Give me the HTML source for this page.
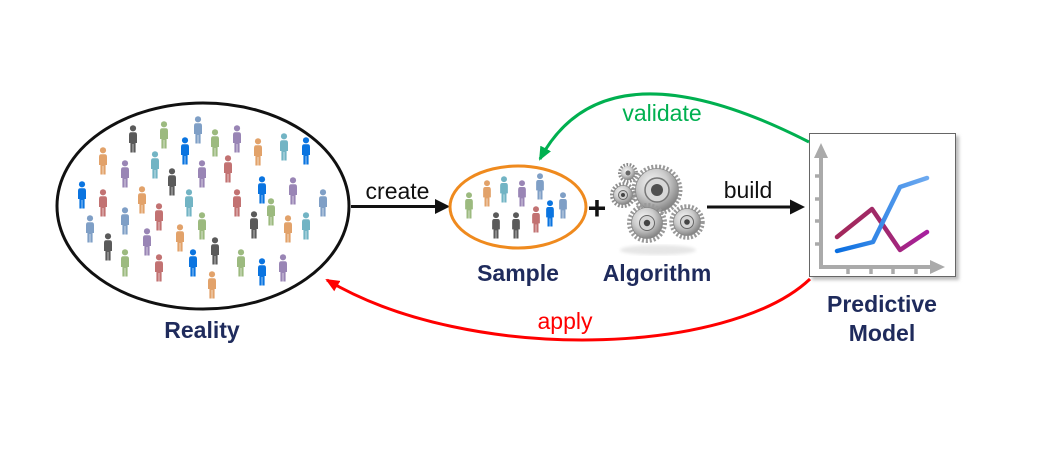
<!DOCTYPE html>
<html><head><meta charset="utf-8"><style>
html,body{margin:0;padding:0;background:#fff;}
svg{display:block;}
text{font-family:"Liberation Sans",Arial,sans-serif;}
</style></head><body>
<svg width="1040" height="451" viewBox="0 0 1040 451" xmlns="http://www.w3.org/2000/svg">
<defs>
<symbol id="p" viewBox="0 0 10 28">
<circle cx="5" cy="3.3" r="3.1"/>
<path d="M1,10 Q1,7.3 3.2,7.3 H6.8 Q9,7.3 9,10 V18 H7.6 V27.5 H5.3 V19 H4.7 V27.5 H2.4 V18 H1 Z"/>
</symbol>
<radialGradient id="metal" cx="40%" cy="35%" r="70%">
<stop offset="0" stop-color="#f6f6f6"/><stop offset="0.5" stop-color="#cccccc"/><stop offset="1" stop-color="#7a7a7a"/>
</radialGradient>
<linearGradient id="blueg" x1="0" y1="0" x2="1" y2="0">
<stop offset="0" stop-color="#0a6ee0"/><stop offset="1" stop-color="#6eaaf0"/>
</linearGradient>
<linearGradient id="redg" x1="0" y1="0" x2="1" y2="0">
<stop offset="0" stop-color="#a3285a"/><stop offset="0.5" stop-color="#a02a6a"/><stop offset="1" stop-color="#a81fa0"/>
</linearGradient>
<marker id="ag" markerWidth="14" markerHeight="12" refX="12" refY="6" orient="auto" markerUnits="userSpaceOnUse">
<path d="M0,0 L14,6 L0,12 Z" fill="#00b050"/></marker>
<marker id="ar" markerWidth="14" markerHeight="12" refX="12" refY="6" orient="auto" markerUnits="userSpaceOnUse">
<path d="M0,0 L14,6 L0,12 Z" fill="#ff0000"/></marker>
<filter id="blur"><feGaussianBlur stdDeviation="1.5"/></filter>
</defs>

<!-- Reality ellipse -->
<ellipse cx="203" cy="206" rx="146" ry="103" fill="#fff" stroke="#111" stroke-width="3"/>
<g>
<use href="#p" x="128" y="125" width="10" height="28" fill="#5a5a5a"/>
<use href="#p" x="159" y="121" width="10" height="28" fill="#9cba7f"/>
<use href="#p" x="193" y="116" width="10" height="28" fill="#7f9fc6"/>
<use href="#p" x="180" y="137" width="10" height="28" fill="#0a74e0"/>
<use href="#p" x="210" y="129" width="10" height="28" fill="#9cba7f"/>
<use href="#p" x="232" y="125" width="10" height="28" fill="#9985b5"/>
<use href="#p" x="253" y="138" width="10" height="28" fill="#e2a26a"/>
<use href="#p" x="279" y="133" width="10" height="28" fill="#72b4c4"/>
<use href="#p" x="301" y="137" width="10" height="28" fill="#0a74e0"/>
<use href="#p" x="98" y="147" width="10" height="28" fill="#e2a26a"/>
<use href="#p" x="120" y="160" width="10" height="28" fill="#9985b5"/>
<use href="#p" x="150" y="151" width="10" height="28" fill="#72b4c4"/>
<use href="#p" x="167" y="168" width="10" height="28" fill="#5a5a5a"/>
<use href="#p" x="197" y="160" width="10" height="28" fill="#9985b5"/>
<use href="#p" x="223" y="155" width="10" height="28" fill="#c27272"/>
<use href="#p" x="257" y="176" width="10" height="28" fill="#0a74e0"/>
<use href="#p" x="288" y="177" width="10" height="28" fill="#9985b5"/>
<use href="#p" x="77" y="181" width="10" height="28" fill="#0a74e0"/>
<use href="#p" x="98" y="189" width="10" height="28" fill="#c27272"/>
<use href="#p" x="137" y="186" width="10" height="28" fill="#e2a26a"/>
<use href="#p" x="184" y="189" width="10" height="28" fill="#72b4c4"/>
<use href="#p" x="232" y="189" width="10" height="28" fill="#c27272"/>
<use href="#p" x="266" y="198" width="10" height="28" fill="#9cba7f"/>
<use href="#p" x="318" y="189" width="10" height="28" fill="#7f9fc6"/>
<use href="#p" x="85" y="215" width="10" height="28" fill="#7f9fc6"/>
<use href="#p" x="120" y="207" width="10" height="28" fill="#7f9fc6"/>
<use href="#p" x="154" y="203" width="10" height="28" fill="#c27272"/>
<use href="#p" x="197" y="212" width="10" height="28" fill="#9cba7f"/>
<use href="#p" x="175" y="224" width="10" height="28" fill="#e2a26a"/>
<use href="#p" x="249" y="211" width="10" height="28" fill="#5a5a5a"/>
<use href="#p" x="283" y="215" width="10" height="28" fill="#e2a26a"/>
<use href="#p" x="301" y="212" width="10" height="28" fill="#72b4c4"/>
<use href="#p" x="103" y="233" width="10" height="28" fill="#5a5a5a"/>
<use href="#p" x="142" y="228" width="10" height="28" fill="#9985b5"/>
<use href="#p" x="210" y="237" width="10" height="28" fill="#5a5a5a"/>
<use href="#p" x="120" y="249" width="10" height="28" fill="#9cba7f"/>
<use href="#p" x="154" y="254" width="10" height="28" fill="#c27272"/>
<use href="#p" x="188" y="249" width="10" height="28" fill="#0a74e0"/>
<use href="#p" x="236" y="249" width="10" height="28" fill="#9cba7f"/>
<use href="#p" x="257" y="258" width="10" height="28" fill="#0a74e0"/>
<use href="#p" x="278" y="254" width="10" height="28" fill="#9985b5"/>
<use href="#p" x="207" y="271" width="10" height="28" fill="#e2a26a"/>
</g>

<!-- create arrow -->
<line x1="351" y1="206.5" x2="437" y2="206.5" stroke="#111" stroke-width="3"/>
<path d="M435,199 L450,206.5 L435,214 Z" fill="#111"/>
<text x="397.5" y="199" font-size="23" text-anchor="middle" fill="#111">create</text>

<!-- Sample ellipse -->
<ellipse cx="518" cy="207" rx="68" ry="41" fill="#fff" stroke="#ef8a1e" stroke-width="3"/>
<g>
<use href="#p" x="464" y="192" width="10" height="27" fill="#9cba7f"/>
<use href="#p" x="482" y="180" width="10" height="27" fill="#e2a26a"/>
<use href="#p" x="499" y="176" width="10" height="27" fill="#72b4c4"/>
<use href="#p" x="517" y="180" width="10" height="27" fill="#9985b5"/>
<use href="#p" x="535" y="173" width="10" height="27" fill="#7f9fc6"/>
<use href="#p" x="491" y="212" width="10" height="27" fill="#5a5a5a"/>
<use href="#p" x="511" y="212" width="10" height="27" fill="#5a5a5a"/>
<use href="#p" x="531" y="206" width="10" height="27" fill="#c27272"/>
<use href="#p" x="545" y="200" width="10" height="27" fill="#0a74e0"/>
<use href="#p" x="558" y="192" width="10" height="27" fill="#7f9fc6"/>
</g>

<text x="597" y="219" font-size="32" font-weight="bold" text-anchor="middle" fill="#111">+</text>

<!-- Gears -->
<ellipse cx="658" cy="250" rx="38" ry="5" fill="#e6e6e6" filter="url(#blur)"/>
<g transform="translate(628,173)">
<circle r="8" fill="none" stroke="#8a8a8a" stroke-width="4" stroke-dasharray="1.6 1.4"/>
<circle r="7" fill="url(#metal)"/><circle r="2.5" fill="#666"/></g>
<g transform="translate(657,190)">
<circle r="23" fill="none" stroke="#9a9a9a" stroke-width="5" stroke-dasharray="2 1.8"/>
<circle r="21.5" fill="url(#metal)" stroke="#888" stroke-width="0.8"/>
<circle r="12" fill="#d8d8d8" stroke="#777" stroke-width="1.5"/>
<circle r="6" fill="#505050"/></g>
<g transform="translate(623,195)">
<circle r="11" fill="none" stroke="#8f8f8f" stroke-width="4" stroke-dasharray="1.8 1.6"/>
<circle r="9.5" fill="url(#metal)" stroke="#888" stroke-width="0.8"/>
<circle r="4.5" fill="#cfcfcf" stroke="#666"/><circle r="2" fill="#444"/></g>
<g transform="translate(687,222)">
<circle r="15.5" fill="none" stroke="#999" stroke-width="4.5" stroke-dasharray="2 1.7"/>
<circle r="13.5" fill="url(#metal)" stroke="#888" stroke-width="0.8"/>
<circle r="6.5" fill="#d5d5d5" stroke="#666"/><circle r="2.8" fill="#444"/></g>
<g transform="translate(647,223)">
<circle r="17.5" fill="none" stroke="#999" stroke-width="5" stroke-dasharray="2 1.8"/>
<circle r="15.5" fill="url(#metal)" stroke="#888" stroke-width="0.8"/>
<circle r="7.5" fill="#d5d5d5" stroke="#666"/><circle r="3.2" fill="#444"/></g>

<!-- build arrow -->
<line x1="707" y1="207" x2="792" y2="207" stroke="#111" stroke-width="3"/>
<path d="M790,199.5 L805,207 L790,214.5 Z" fill="#111"/>
<text x="748" y="198" font-size="23" text-anchor="middle" fill="#111">build</text>

<!-- Chart box -->
<rect x="812" y="136" width="147" height="144" fill="#bdbdbd" filter="url(#blur)"/>
<rect x="809.5" y="133.5" width="146" height="143" fill="#fff" stroke="#666" stroke-width="1"/>
<g stroke="#aaa" fill="none">
<line x1="821" y1="156" x2="821" y2="267" stroke-width="4"/>
<line x1="819" y1="267" x2="932" y2="267" stroke-width="4"/>
<g stroke-width="3.5">
<line x1="815" y1="176" x2="823" y2="176"/><line x1="815" y1="199" x2="823" y2="199"/>
<line x1="815" y1="221" x2="823" y2="221"/><line x1="815" y1="244" x2="823" y2="244"/>
<line x1="848" y1="265" x2="848" y2="274"/><line x1="871" y1="265" x2="871" y2="274"/>
<line x1="893" y1="265" x2="893" y2="274"/><line x1="916" y1="265" x2="916" y2="274"/>
</g></g>
<path d="M821,143 L828,158 L814,158 Z" fill="#aaa"/>
<path d="M945,267 L930,260 L930,274 Z" fill="#aaa"/>
<polyline points="837,237 872,209 900,250 927,232" fill="none" stroke="url(#redg)" stroke-width="4.5" stroke-linejoin="round" stroke-linecap="round"/>
<polyline points="837,251 873,242 900,187 927,178" fill="none" stroke="url(#blueg)" stroke-width="4.5" stroke-linejoin="round" stroke-linecap="round"/>

<!-- validate arrow -->
<path d="M809,142 Q605,38 540,159" fill="none" stroke="#00b050" stroke-width="3" marker-end="url(#ag)"/>
<text x="662" y="121" font-size="23" text-anchor="middle" fill="#00b050">validate</text>

<!-- apply arrow -->
<path d="M810,279 C730,355 470,365 327,280" fill="none" stroke="#ff0000" stroke-width="3" marker-end="url(#ar)"/>
<text x="565" y="329" font-size="23" text-anchor="middle" fill="#ff0000">apply</text>

<!-- Labels -->
<g font-weight="bold" fill="#1f2b5c" font-size="23" text-anchor="middle">
<text x="202" y="338">Reality</text>
<text x="518" y="281">Sample</text>
<text x="657" y="281">Algorithm</text>
<text x="882" y="312">Predictive</text>
<text x="882" y="341">Model</text>
</g>
</svg>
</body></html>
